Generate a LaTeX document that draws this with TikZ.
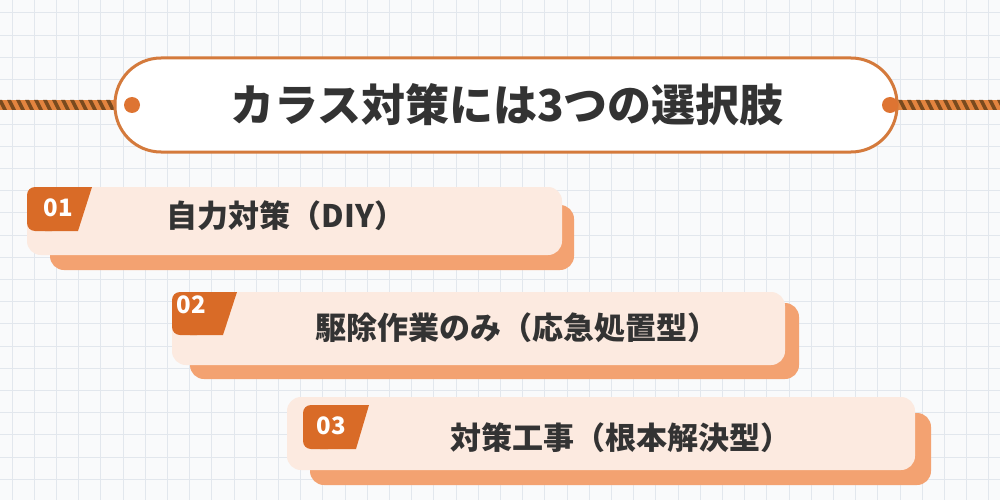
\documentclass[tikz,border=0pt]{standalone}
\usepackage{fontspec}
\newfontfamily\cjk{Noto Sans CJK JP}
\definecolor{bgc}{HTML}{F9FAFB}
\definecolor{gridc}{HTML}{E2E7ED}
\definecolor{pillc}{HTML}{D47A3C}
\definecolor{dotc}{HTML}{DE7432}
\definecolor{ropeor}{HTML}{E3843F}
\definecolor{ropebr}{HTML}{7A4A1E}
\definecolor{frontc}{HTML}{FCEAE0}
\definecolor{backc}{HTML}{F3A271}
\definecolor{badgec}{HTML}{D96B27}
\definecolor{txtc}{HTML}{333333}
\tikzset{
  front/.style={fill=frontc, rounded corners=14},
  back/.style={fill=backc, rounded corners=14},
  badgefill/.style={fill=badgec},
  numtxt/.style={text=white, font=\cjk\bfseries\fontsize{24}{24}\selectfont, inner sep=0pt, anchor=center},
  itemtxt/.style={text=txtc, font=\cjk\bfseries\fontsize{31}{31}\selectfont, inner sep=0pt, anchor=center},
}
\begin{document}
\begin{tikzpicture}[x=1pt,y=-1pt]
\useasboundingbox (0,0) rectangle (1000,500);
\fill[bgc] (0,0) rectangle (1000,500);
\foreach \i in {0,...,45} \draw[gridc, line width=1] (12+\i*22.2,0) -- (12+\i*22.2,500);
\foreach \i in {0,...,22} \draw[gridc, line width=1] (0,13+\i*22.2) -- (1000,13+\i*22.2);
% ropes
\begin{scope}
\clip (0,100) rectangle (120,110);
\fill[ropeor] (0,100) rectangle (120,110);
\foreach \i in {0,...,14} \fill[ropebr] (\i*9-2,100) -- ++(4,0) -- ++(5,10) -- ++(-4,0) -- cycle;
\end{scope}
\begin{scope}
\clip (892,100) rectangle (1000,110);
\fill[ropeor] (890,100) rectangle (1000,110);
\foreach \i in {0,...,14} \fill[ropebr] (889+\i*9,100) -- ++(4,0) -- ++(5,10) -- ++(-4,0) -- cycle;
\end{scope}
% title pill
\draw[pillc, line width=3, fill=white, rounded corners=46] (115,58) rectangle (897,152);
\fill[dotc] (132,105) circle (8);
\fill[dotc] (890,105) circle (8);
\node[text=txtc, font=\cjk\bfseries\fontsize{44}{44}\selectfont, inner sep=0pt] (title) at (507,105) {カラス対策には3つの選択肢};
% card 1
\fill[back] (50,205) rectangle (574,270);
\fill[front] (27,187) rectangle (562,255);
\fill[badgefill, rounded corners=8] (27,187) rectangle (60,231);
\fill[badgefill] (45,187) -- (92,187) -- (78,231) -- (45,231) -- cycle;
\node[numtxt] (n1) at (58,208) {01};
\node[itemtxt] (t1) at (286,216) {自力対策（DIY）};
% card 2
\fill[back] (190,303) rectangle (799,379);
\fill[front] (172,292) rectangle (785,365);
\fill[badgefill, rounded corners=8] (172,292) rectangle (205,335);
\fill[badgefill] (190,292) -- (237,292) -- (223,335) -- (190,335) -- cycle;
\node[numtxt] (n2) at (191,305) {02};
\node[itemtxt] (t2) at (517,328) {駆除作業のみ（応急処置型）};
% card 3
\fill[back] (310,413) rectangle (931,485);
\fill[front] (287,397) rectangle (915,470);
\fill[badgefill, rounded corners=8] (303,405) rectangle (336,449);
\fill[badgefill] (320,405) -- (369,405) -- (356,449) -- (320,449) -- cycle;
\node[numtxt] (n3) at (331,426) {03};
\node[itemtxt] (t3) at (621,438) {対策工事（根本解決型）};
\end{tikzpicture}
\end{document}
